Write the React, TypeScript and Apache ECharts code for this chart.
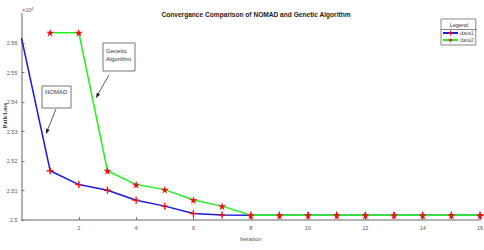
import React, { useEffect, useRef } from "react";
import * as echarts from "echarts";

// Path loss values in units of 10^4
const nomadIterations = [0, 1, 2, 3, 4, 5, 6, 7, 8, 9, 10, 11, 12, 13, 14, 15, 16];
const nomadLoss = [2.5617, 2.5167, 2.512, 2.5101, 2.5067, 2.5047, 2.5022, 2.5017, 2.5016, 2.5016, 2.5016, 2.5016, 2.5016, 2.5016, 2.5016, 2.5016, 2.5016];
const gaIterations = [1, 2, 3, 4, 5, 6, 7, 8, 9, 10, 11, 12, 13, 14, 15, 16];
const gaLoss = [2.5635, 2.5635, 2.5167, 2.512, 2.5103, 2.5068, 2.5047, 2.5016, 2.5016, 2.5016, 2.5016, 2.5016, 2.5016, 2.5016, 2.5016, 2.5016];
const seriesNames = ["data1", "data2"];

const PLUS = "path://M4,0h2v4h4v2h-4v4h-2v-4h-4v-2h4z";
const STAR = "path://M50,0 L61,35 L98,35 L68,57 L79,91 L50,70 L21,91 L32,57 L2,35 L39,35 Z";
const FONT = "'Liberation Sans', Arial, sans-serif";

export default function App() {
  const ref = useRef<HTMLDivElement>(null);
  useEffect(() => {
    if (!ref.current) return;
    const chart = echarts.init(ref.current, undefined, { renderer: "svg" });
    chart.setOption({
      animation: false,
      backgroundColor: "#ffffff",
      textStyle: { fontFamily: FONT },
      title: {
        text: "Convergance Comparison of NOMAD and Genetic Algorithm",
        left: 251,
        top: 6,
        textAlign: "center",
        textStyle: { fontSize: 6.6, fontWeight: "bold", color: "#222", fontFamily: FONT },
      },
      grid: { left: 21.5, right: 4, top: 13.5, bottom: 30, containLabel: false, outerBoundsMode: "none" },
      xAxis: {
        type: "value",
        min: 0,
        max: 16,
        interval: 2,
        name: "Iteration",
        nameLocation: "middle",
        nameGap: 13,
        nameTextStyle: { fontSize: 6, color: "#555555" },
        axisLine: { lineStyle: { color: "#999", width: 1.5 } },
        axisTick: { inside: true, length: 3, lineStyle: { color: "#777" } },
        axisLabel: { fontSize: 5.5, color: "#555", margin: 5, showMinLabel: false },
        splitLine: { show: false },
      },
      yAxis: {
        type: "value",
        min: 2.5,
        max: 2.57,
        interval: 0.01,
        axisLine: { show: true, lineStyle: { color: "#999", width: 1.5 } },
        axisTick: { show: true, inside: true, length: 3, lineStyle: { color: "#777" } },
        axisLabel: {
          fontSize: 5.5,
          color: "#555",
          margin: 4,
          showMaxLabel: false,
          formatter: (v: number) => String(parseFloat(v.toFixed(2))),
        },
        splitLine: { show: false },
      },
      legend: {
        orient: "vertical",
        left: 441,
        top: 19,
        padding: [11, 2, 2, 1],
        itemGap: 1,
        itemWidth: 15,
        itemHeight: 6,
        borderColor: "#888",
        borderWidth: 1,
        backgroundColor: "#fff",
        textStyle: { fontSize: 5.5, color: "#555", padding: [0, 0, 0, -3] },
        data: seriesNames,
      },
      graphic: [
        {
          type: "text",
          left: 22,
          top: 6,
          style: {
            text: "×10{s|4}",
            fontSize: 5.5,
            fill: "#555",
            fontFamily: FONT,
            rich: { s: { fontSize: 4, verticalAlign: "top", padding: [0, 0, 4, 0] } },
          },
        },
        // Y axis title, rotated to read bottom-to-top
        {
          type: "group",
          left: 1.5,
          top: 103,
          children: [
            {
              type: "text",
              rotation: Math.PI / 2,
              style: {
                text: "Path Loss",
                fontSize: 6,
                fontWeight: "bold",
                fill: "#333",
                fontFamily: "'Liberation Serif', 'Times New Roman', serif",
              },
            },
          ],
        },
        { type: "text", x: 459, y: 21.5, z: 300, style: { text: "Legend", fontSize: 5.5, fill: "#333", align: "center", fontFamily: FONT } },
        { type: "line", shape: { x1: 441, y1: 29.5, x2: 477, y2: 29.5 }, style: { stroke: "#888", lineWidth: 1 }, z: 300 },
        // Annotation: Genetic Algorithm
        { type: "rect", z: 200, shape: { x: 103, y: 43, width: 32, height: 28 }, style: { fill: "#fff", stroke: "#777", lineWidth: 1 } },
        { type: "text", z: 201, x: 106, y: 47, style: { text: "Genetic\nAlgorithm", fontSize: 6, lineHeight: 8, fill: "#333", fontFamily: FONT } },
        { type: "line", z: 200, shape: { x1: 109, y1: 75, x2: 98, y2: 94 }, style: { stroke: "#333", lineWidth: 0.8 } },
        { type: "polygon", z: 200, shape: { points: [[96, 98], [100.2, 94.6], [96.7, 92.7]] }, style: { fill: "#222" } },
        // Annotation: NOMAD
        { type: "rect", z: 200, shape: { x: 42, y: 86, width: 29, height: 22 }, style: { fill: "#fff", stroke: "#777", lineWidth: 1 } },
        { type: "text", z: 201, x: 45, y: 89, style: { text: "NOMAD", fontSize: 6, fill: "#333", fontFamily: FONT } },
        { type: "line", z: 200, shape: { x1: 56, y1: 109, x2: 47.5, y2: 130 }, style: { stroke: "#333", lineWidth: 0.8 } },
        { type: "polygon", z: 200, shape: { points: [[46, 134], [49.7, 130.1], [46.0, 128.6]] }, style: { fill: "#222" } },
      ],
      series: [
        {
          name: seriesNames[0],
          type: "line",
          // the starting point sits on the y axis and carries no marker
          data: nomadIterations.map((x, i) =>
            i === 0 ? { value: [x, nomadLoss[i]], symbol: "none" } : [x, nomadLoss[i]]
          ),
          lineStyle: { color: "#1a1ae0", width: 1.5 },
          itemStyle: { color: "#ee1111" },
          symbol: PLUS,
          symbolSize: 7,
          showAllSymbol: true,
          z: 2,
        },
        {
          name: seriesNames[1],
          type: "line",
          data: gaIterations.map((x, i) => [x, gaLoss[i]]),
          lineStyle: { color: "#22ee22", width: 1.5 },
          itemStyle: { color: "#ee1111" },
          symbol: STAR,
          symbolSize: 8,
          showAllSymbol: true,
          z: 3,
        },
      ],
    });
    return () => chart.dispose();
  }, []);
  return <div ref={ref} style={{ width: 484, height: 250, position: "absolute", left: 0, top: 0 }} />;
}
